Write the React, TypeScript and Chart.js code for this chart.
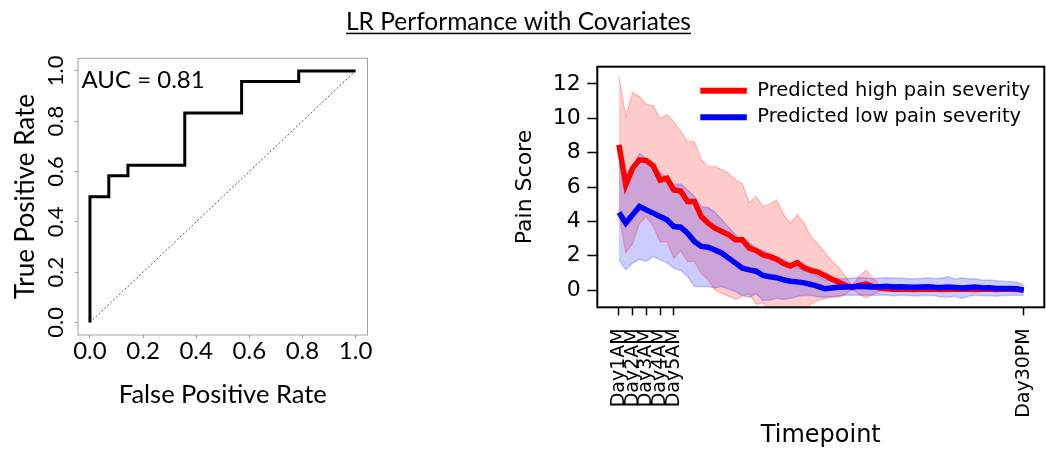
import React, { useEffect, useRef } from 'react';
import { Chart, registerables } from 'chart.js';
Chart.register(...registerables);

// ---------- Left panel: ROC ----------
const chartTitle = 'LR Performance with Covariates';
const rocFpr = [0, 0, 0.071, 0.071, 0.143, 0.143, 0.357, 0.357, 0.571, 0.571, 0.786, 0.786, 1.0];
const rocTpr = [0, 0.5, 0.5, 0.583, 0.583, 0.625, 0.625, 0.833, 0.833, 0.958, 0.958, 1.0, 1.0];
const chanceLine = [0, 1];
const aucLabel = 'AUC = 0.81';
const rocTicks = [0, 0.2, 0.4, 0.6, 0.8, 1.0];

// ---------- Right panel: pain trajectories ----------
const timepoints: string[] = [];
for (let d = 1; d <= 30; d++) timepoints.push(`Day${d}AM`, `Day${d}PM`);
const timeTickLabels = ['Day1AM', 'Day2AM', 'Day3AM', 'Day4AM', 'Day5AM', 'Day30PM'];
const painTicks = [0, 2, 4, 6, 8, 10, 12];
const highLabel = 'Predicted high pain severity';
const lowLabel = 'Predicted low pain severity';

const highMean = [
  8.45, 6.13, 7.1, 7.58, 7.54, 7.23, 6.41, 6.51, 5.83, 5.77,
  5.16, 5.16, 4.28, 3.9, 3.6, 3.41, 3.22, 2.93, 2.93, 2.44,
  2.31, 2.05, 1.95, 1.8, 1.55, 1.4, 1.6, 1.3, 1.15, 1.05,
  0.85, 0.65, 0.47, 0.28, 0.15, 0.28, 0.35, 0.22, 0.12, 0.08,
  0.05, 0.06, 0.05, 0.04, 0.05, 0.06, 0.05, 0.04, 0.05, 0.05,
  0.06, 0.05, 0.04, 0.05, 0.05, 0.04, 0.05, 0.05, 0.04, 0.0,
];
const highSd = [
  4.0, 3.97, 4.4, 3.67, 3.26, 3.52, 3.59, 3.7, 3.97, 3.48,
  3.49, 3.49, 3.32, 3.3, 3.6, 3.59, 3.58, 3.47, 3.27, 2.66,
  3.14, 2.8, 3.05, 3.45, 2.85, 2.5, 2.78, 2.6, 1.95, 1.65,
  1.35, 1.05, 0.88, 0.52, 0.12, 0.52, 0.8, 0.48, 0.18, 0.1,
  0.08, 0.08, 0.08, 0.08, 0.08, 0.08, 0.08, 0.08, 0.08, 0.08,
  0.08, 0.08, 0.08, 0.08, 0.08, 0.08, 0.08, 0.08, 0.08, 0.05,
];
const lowMean = [
  4.52, 3.9, 4.38, 4.87, 4.67, 4.48, 4.28, 4.09, 3.7, 3.66,
  3.31, 2.83, 2.54, 2.5, 2.34, 2.15, 1.86, 1.57, 1.28, 1.18,
  1.1, 0.85, 0.78, 0.72, 0.6, 0.52, 0.48, 0.42, 0.33, 0.22,
  0.08, 0.12, 0.16, 0.18, 0.2, 0.22, 0.2, 0.18, 0.2, 0.22,
  0.18, 0.2, 0.18, 0.16, 0.18, 0.2, 0.17, 0.15, 0.18, 0.15,
  0.12, 0.15, 0.18, 0.12, 0.14, 0.1, 0.1, 0.1, 0.08, 0.0,
];
const lowSd = [
  2.76, 2.72, 2.81, 3.07, 3.0, 2.52, 2.52, 2.5, 2.42, 2.52,
  2.52, 2.62, 2.33, 2.3, 2.2, 1.95, 1.8, 1.65, 1.6, 1.6,
  1.3, 1.45, 1.35, 1.2, 1.15, 1.0, 0.85, 0.72, 0.65, 0.6,
  0.5, 0.5, 0.5, 0.48, 0.5, 0.52, 0.5, 0.48, 0.5, 0.5,
  0.52, 0.5, 0.48, 0.5, 0.5, 0.5, 0.5, 0.55, 0.6, 0.5,
  0.6, 0.5, 0.48, 0.45, 0.45, 0.45, 0.42, 0.4, 0.38, 0.3,
];

const RED = '#ff0000';
const BLUE = '#0000ff';
const RED_A = 'rgba(255,0,0,0.2)';
const BLUE_A = 'rgba(0,0,255,0.2)';

const pts = (ys: number[]) => ys.map((y, i) => ({ x: i, y }));
const band = (m: number[], s: number[], sign: number) => m.map((v, i) => ({ x: i, y: v + sign * s[i] }));

const framePlugin = (id: string, color: string, width: number) => ({
  id,
  afterDatasetsDraw(chart: any) {
    const { ctx, chartArea: a } = chart;
    ctx.save();
    ctx.strokeStyle = color;
    ctx.lineWidth = width;
    ctx.strokeRect(a.left, a.top, a.right - a.left, a.bottom - a.top);
    ctx.restore();
  },
});

const leftTextPlugin = {
  id: 'leftText',
  afterDraw(chart: any) {
    const { ctx, chartArea: a } = chart;
    ctx.save();
    ctx.fillStyle = '#000';
    ctx.font = '24.5px Lato';
    ctx.textAlign = 'center';
    ctx.textBaseline = 'alphabetic';
    const cx = 518.5;
    ctx.fillText(chartTitle, cx, 30);
    const w = ctx.measureText(chartTitle).width;
    ctx.fillRect(cx - w / 2, 32.7, w, 1.5);
    ctx.textAlign = 'left';
    ctx.font = '24px Lato';
    ctx.fillText(aucLabel, a.left + 3.5, a.top + 30);
    ctx.restore();
  },
};

const legendPlugin = {
  id: 'customLegend',
  afterDraw(chart: any) {
    const { ctx, chartArea: a } = chart;
    const items = [chart.data.datasets[1], chart.data.datasets[0]];
    ctx.save();
    ctx.font = '19.5px "DejaVu Sans"';
    ctx.textAlign = 'left';
    ctx.textBaseline = 'middle';
    items.forEach((ds: any, k: number) => {
      const y = a.top + 24 + k * 26.6;
      const x0 = a.left + 103;
      ctx.strokeStyle = ds.borderColor;
      ctx.lineWidth = 6;
      ctx.lineCap = 'butt';
      ctx.beginPath();
      ctx.moveTo(x0, y);
      ctx.lineTo(x0 + 46.5, y);
      ctx.stroke();
      ctx.fillStyle = '#000';
      ctx.fillText(ds.label, x0 + 57, y);
    });
    ctx.restore();
  },
};

function leftConfig(): any {
  return {
    type: 'scatter',
    data: {
      datasets: [
        {
          data: rocFpr.map((x, i) => ({ x, y: rocTpr[i] })),
          showLine: true,
          borderColor: '#000',
          borderWidth: 3,
          pointRadius: 0,
          tension: 0,
        },
        {
          data: chanceLine.map((v) => ({ x: v, y: v })),
          showLine: true,
          borderColor: '#555',
          borderWidth: 1,
          borderDash: [2, 2],
          pointRadius: 0,
        },
      ],
    },
    options: {
      animation: false,
      responsive: false,
      devicePixelRatio: 1,
      layout: { padding: { left: 0, top: 58.3, right: 1046 - 367.5, bottom: 0 } },
      plugins: { legend: { display: false }, tooltip: { enabled: false } },
      scales: {
        x: {
          type: 'linear',
          min: -0.045,
          max: 1.045,
          afterBuildTicks: (s: any) => { s.ticks = rocTicks.map((v) => ({ value: v })); },
          afterFit: (s: any) => { s.height = 450 - 335; },
          grid: { drawOnChartArea: false, tickLength: 3, tickColor: '#999' },
          border: { display: false },
          ticks: {
            autoSkip: false, maxRotation: 0, padding: 1,
            font: { family: 'Lato', size: 24, lineHeight: 1 }, color: '#000',
            callback: (v: any) => Number(v).toFixed(1),
          },
          title: {
            display: true, text: 'False Positive Rate',
            font: { family: 'Lato', size: 25.5 }, color: '#000',
            padding: { top: 0, bottom: 40 },
          },
        },
        y: {
          type: 'linear',
          min: -0.05,
          max: 1.05,
          afterBuildTicks: (s: any) => { s.ticks = rocTicks.map((v) => ({ value: v })); },
          afterFit: (s: any) => { s.width = 78; },
          grid: { drawOnChartArea: false, tickLength: 3, tickColor: '#999' },
          border: { display: false },
          ticks: {
            minRotation: 90, maxRotation: 90, crossAlign: 'center', padding: 4,
            font: { family: 'Lato', size: 22 }, color: '#000',
            callback: (v: any) => Number(v).toFixed(1),
          },
          title: {
            display: true, text: 'True Positive Rate',
            font: { family: 'Lato', size: 26 }, color: '#000',
            padding: { top: 10, bottom: 0 },
          },
        },
      },
    },
    plugins: [framePlugin('leftFrame', '#a0a0a0', 1), leftTextPlugin],
  };
}

function rightConfig(): any {
  const tickIdx = timeTickLabels.map((l) => timepoints.indexOf(l));
  const common = { pointRadius: 0, tension: 0 };
  return {
    type: 'line',
    data: {
      datasets: [
        { label: lowLabel, data: pts(lowMean), borderColor: BLUE, borderWidth: 5.5, fill: false, ...common },
        { label: highLabel, data: pts(highMean), borderColor: RED, borderWidth: 5.5, fill: false, ...common },
        { label: 'low upper', data: band(lowMean, lowSd, 1), borderColor: BLUE_A, backgroundColor: BLUE_A, borderWidth: 1.5, fill: '+1', ...common },
        { label: 'low lower', data: band(lowMean, lowSd, -1), borderColor: BLUE_A, borderWidth: 1.5, fill: false, ...common },
        { label: 'high upper', data: band(highMean, highSd, 1), borderColor: RED_A, backgroundColor: RED_A, borderWidth: 1.5, fill: '+1', ...common },
        { label: 'high lower', data: band(highMean, highSd, -1), borderColor: RED_A, borderWidth: 1.5, fill: false, ...common },
      ],
    },
    options: {
      animation: false,
      responsive: false,
      devicePixelRatio: 1,
      layout: { padding: { left: 500, top: 66.7, right: 1060 - 1049.6, bottom: 0 } },
      plugins: {
        legend: { display: false },
        tooltip: { enabled: false },
        filler: { drawTime: 'beforeDatasetsDraw' },
      },
      scales: {
        x: {
          type: 'linear',
          min: -3.15,
          max: 62.0,
          afterBuildTicks: (s: any) => { s.ticks = tickIdx.map((v) => ({ value: v })); },
          afterFit: (s: any) => { s.height = 450 - 307.3; },
          grid: { drawOnChartArea: false, tickLength: 8, tickColor: '#000', tickWidth: 1.5 },
          border: { display: false },
          ticks: {
            autoSkip: false, minRotation: 90, maxRotation: 90, padding: 13,
            font: { family: 'DejaVu Sans', size: 19 }, color: '#000',
            callback: (v: any) => timepoints[v],
          },
          title: {
            display: true, text: 'Timepoint',
            font: { family: 'DejaVu Sans', size: 24 }, color: '#000',
            padding: { top: 0, bottom: 0 },
          },
        },
        y: {
          type: 'linear',
          min: -1,
          max: 13,
          afterBuildTicks: (s: any) => { s.ticks = painTicks.map((v) => ({ value: v })); },
          afterFit: (s: any) => { s.width = 97.3; },
          grid: { drawOnChartArea: false, tickLength: 10, tickColor: '#000', tickWidth: 1.5 },
          border: { display: false },
          ticks: {
            padding: 6.5,
            font: { family: 'DejaVu Sans', size: 22 }, color: '#000',
          },
          title: {
            display: true, text: 'Pain Score',
            font: { family: 'DejaVu Sans', size: 22 }, color: '#000',
            padding: { top: 12.5, bottom: 0 },
          },
        },
      },
    },
    plugins: [framePlugin('rightFrame', '#000', 2), legendPlugin],
  };
}

export default function App() {
  const leftRef = useRef<HTMLCanvasElement>(null);
  const rightRef = useRef<HTMLCanvasElement>(null);
  useEffect(() => {
    const c1 = new Chart(leftRef.current as HTMLCanvasElement, leftConfig());
    const c2 = new Chart(rightRef.current as HTMLCanvasElement, rightConfig());
    return () => {
      c1.destroy();
      c2.destroy();
    };
  }, []);
  return (
    <div style={{ position: 'absolute', left: 0, top: 0, width: 1046, height: 450, overflow: 'hidden', background: '#fff' }}>
      <canvas ref={leftRef} width={1046} height={450} style={{ position: 'absolute', left: 0, top: 0, width: 1046, height: 450 }} />
      <canvas ref={rightRef} width={1060} height={450} style={{ position: 'absolute', left: 0, top: 0, width: 1060, height: 450 }} />
    </div>
  );
}
